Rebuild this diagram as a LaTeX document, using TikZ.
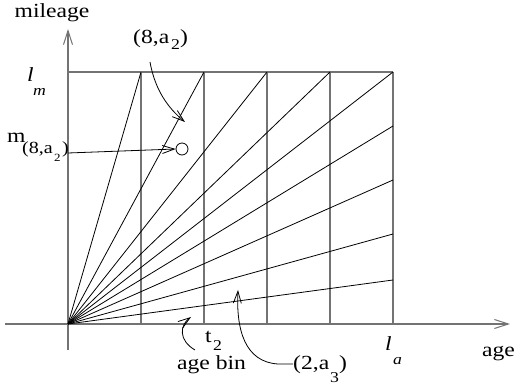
\documentclass[tikz,border=0pt]{standalone}
\usepackage{fontspec}
\setmainfont[FakeStretch=1.18]{Liberation Serif}
\usetikzlibrary{arrows.meta}
\tikzset{
  binline/.style={draw=black!55, line width=1.3pt},
  rayline/.style={draw=black, line width=0.8pt},
  axisline/.style={draw=black!55, line width=1.3pt, -{Straight Barb[length=14pt,width=9pt,line width=1pt]}},
  pointer/.style={draw=black, line width=0.8pt, -{Straight Barb[length=12pt,width=8pt]}},
  lbl/.style={anchor=base west, inner sep=0pt, font=\fontsize{20}{24}\selectfont},
  sublbl/.style={anchor=base west, inner sep=0pt, font=\fontsize{15}{18}\selectfont},
  tinylbl/.style={anchor=base west, inner sep=0pt, font=\fontsize{11}{13}\selectfont},
}

\begin{document}
\begin{tikzpicture}[x=1pt,y=-1pt]
\useasboundingbox (0,0) rectangle (515,385);
% axes
\coordinate (o) at (68,324);
\coordinate (yStart) at (68,350);
\coordinate (yEnd) at (68,29);
\coordinate (xStart) at (5,324);
\coordinate (xEnd) at (510,324);
\draw[axisline] (yStart) -- (yEnd);
\draw[axisline] (xStart) -- (xEnd);
% bins
\coordinate (top0) at (68,72);
\coordinate (top1) at (141,72);
\coordinate (top2) at (204,72);
\coordinate (top3) at (267,72);
\coordinate (top4) at (330,72);
\coordinate (top5) at (393,72);
\coordinate (bot1) at (141,324);
\coordinate (bot2) at (204,324);
\coordinate (bot3) at (267,324);
\coordinate (bot4) at (330,324);
\coordinate (bot5) at (393,324);
\draw[binline] (top0) -- (top5);
\draw[binline] (top1) -- (bot1);
\draw[binline] (top2) -- (bot2);
\draw[binline] (top3) -- (bot3);
\draw[binline] (top4) -- (bot4);
\draw[binline] (top5) -- (bot5);
% rays
\coordinate (side1) at (393,126);
\coordinate (side2) at (393,180);
\coordinate (side3) at (393,234);
\coordinate (side4) at (393,280);
\draw[rayline] (o) -- (top1);
\draw[rayline] (o) -- (top2);
\draw[rayline] (o) -- (top3);
\draw[rayline] (o) -- (top4);
\draw[rayline] (o) -- (top5);
\draw[rayline] (o) -- (side1);
\draw[rayline] (o) -- (side2);
\draw[rayline] (o) -- (side3);
\draw[rayline] (o) -- (side4);
% labels
\node[lbl, anchor=base] (mileage) at (52,18) {mileage};
\node[lbl] (age) at (482,357) {age};
\node[lbl] (lm) at (27,82) {\textit{l}};
\node[sublbl] (lmSub) at (33,96) {\textit{m}};
\node[lbl] (la) at (385,351) {\textit{l}};
\node[sublbl] (laSub) at (393,364) {\textit{a}};
\node[lbl] (tTwo) at (205,342) {t};
\node[sublbl] (tTwoSub) at (213,351) {2};
\node[lbl] (ageBin) at (177,370) {age bin};
\node[lbl] (binTwo) at (293,370) {(2,a};
\node[sublbl] (binTwoSub) at (330,382) {3};
\node[lbl] (binTwoEnd) at (339,370) {)};
\node[lbl] (binEight) at (133,44) {(8,a};
\node[sublbl] (binEightSub) at (171,50) {2};
\node[lbl] (binEightEnd) at (180,44) {)};
\node[lbl] (mVal) at (7,143) {m};
\node[lbl, font=\fontsize{17}{20}\selectfont] (mValSub) at (22,154) {(8,a};
\node[tinylbl] (mValSubSub) at (54,162) {2};
\node[lbl, font=\fontsize{17}{20}\selectfont] (mValSubEnd) at (62,154) {)};
% mean point
\node[circle, draw, line width=0.8pt, minimum size=12pt, inner sep=0pt] (pt) at (182,149) {};
% pointers
\coordinate (mTail) at (68,153);
\coordinate (eightTail) at (150,62);
\coordinate (eightTip) at (185,122);
\coordinate (binTail) at (195,350);
\coordinate (binTip) at (191,317);
\coordinate (threeTail) at (293,364);
\coordinate (threeTip) at (238,290);
\draw[pointer] (mTail) -- (pt.west);
\draw[pointer] (eightTail) .. controls (155,90) and (168,108) .. (eightTip);
\draw[pointer] (binTail) .. controls (178,340) and (180,325) .. (binTip);
\draw[pointer] (threeTail) -- (278,364) .. controls (245,362) and (236,330) .. (threeTip);
\end{tikzpicture}
\end{document}
